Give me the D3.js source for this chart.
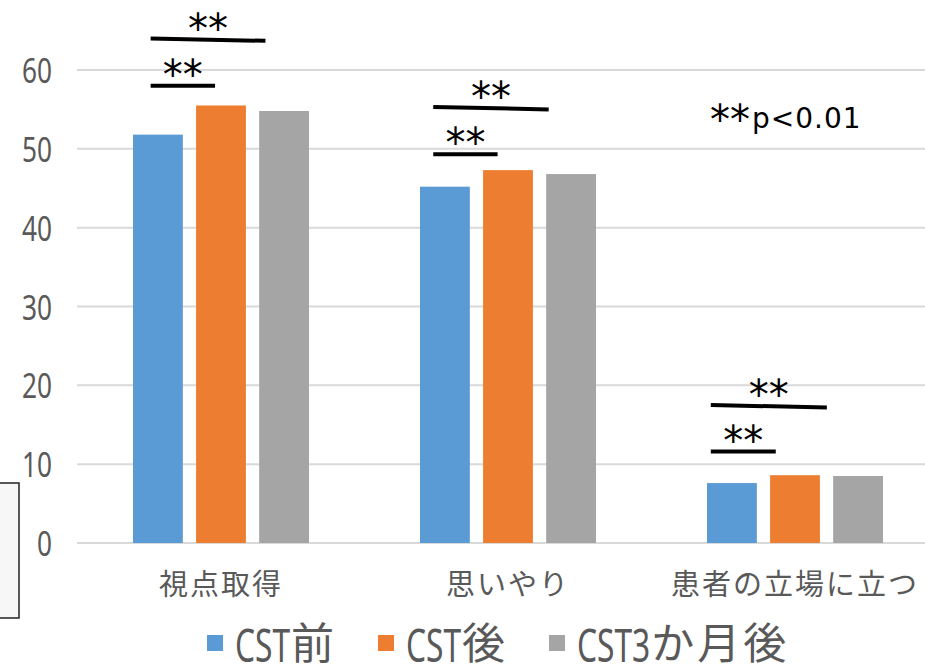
<!DOCTYPE html>
<html><head><meta charset="utf-8">
<script src="https://cdn.jsdelivr.net/npm/d3@7"></script>
<style>html,body{margin:0;padding:0;background:#fff;}svg{display:block;}</style>
</head><body>
<svg id="chart" width="925" height="665"></svg>
<script>
// ---- data ----
const categories = ["視点取得", "思いやり", "患者の立場に立つ"];
const seriesNames = ["CST前", "CST後", "CST3か月後"];
const seriesColors = ["#5b9bd5", "#ed7d31", "#a5a5a5"];
const valuesBefore = [51.8, 45.2, 7.6];
const valuesAfter = [55.5, 47.3, 8.6];
const values3Months = [54.8, 46.8, 8.5];
const yTicks = [0, 10, 20, 30, 40, 50, 60];
// significance brackets (category index, start/end in bar-step units from first bar, y value at start/end)
const sigCategory = [0, 0, 1, 1, 2, 2];
const sigStart = [0.28, 0.28, 0.21, 0.21, 0.06, 0.06];
const sigEnd = [1.30, 2.10, 1.23, 2.04, 1.09, 1.90];
const sigYStart = [58.0, 64.0, 49.3, 55.3, 11.6, 17.5];
const sigYEnd = [58.0, 63.7, 49.3, 55.0, 11.6, 17.2];
const sigLabel = ["**", "**", "**", "**", "**", "**"];
const noteText = ["**", "p<0.01"];

const series = [valuesBefore, valuesAfter, values3Months];

const svg = d3.select("#chart");
svg.append("rect").attr("width", 925).attr("height", 665).attr("fill", "#fff");

const latin = "'Noto Sans', 'DejaVu Sans', sans-serif";
const cjk = "'Noto Sans CJK JP', sans-serif";

const y = d3.scaleLinear().domain([0, 60]).range([543, 70]);
const x0 = d3.scaleBand().domain(categories).range([77.5, 938.5]).paddingInner(0).paddingOuter(0);
const x1 = d3.scaleBand().domain(d3.range(3)).range([55.5, 231.5]).paddingInner(0.21).paddingOuter(0);
const step = x1.step();

// gridlines
svg.append("g").selectAll("line").data(yTicks).join("line")
  .attr("x1", 77).attr("x2", 925)
  .attr("y1", d => y(d)).attr("y2", d => y(d))
  .attr("stroke", "#d9d9d9").attr("stroke-width", 2);

// y axis labels (condensed look)
const yAxis = d3.axisLeft(y).tickValues(yTicks).tickSize(0).tickPadding(0);
const ga = svg.append("g").attr("transform", "translate(52,0)").call(yAxis);
ga.select(".domain").remove();
ga.selectAll("text").attr("font-family", latin).attr("font-size", 35)
  .attr("fill", "#595959").attr("dy", "0.36em")
  .attr("transform", "scale(0.75,1)");

// bars
const groups = svg.append("g").selectAll("g").data(categories).join("g")
  .attr("transform", d => `translate(${x0(d)},0)`);
groups.selectAll("rect").data((c, ci) => series.map((s, si) => ({si, v: s[ci]})))
  .join("rect")
  .attr("x", d => x1(d.si)).attr("width", x1.bandwidth())
  .attr("y", d => y(d.v)).attr("height", d => y(0) - y(d.v))
  .attr("fill", d => seriesColors[d.si]);

// category labels
svg.append("g").selectAll("text").data(categories).join("text")
  .attr("x", d => x0(d) + x0.bandwidth() / 2).attr("y", 582)
  .attr("text-anchor", "middle").attr("dominant-baseline", "central")
  .attr("font-family", cjk).attr("font-size", 29).attr("letter-spacing", 2)
  .attr("fill", "#595959").text(d => d);

// significance brackets
const sig = sigCategory.map((c, i) => {
  const gx = x0(categories[c]) + x1(0);
  return {x1: gx + sigStart[i] * step, x2: gx + sigEnd[i] * step,
          y1: y(sigYStart[i]), y2: y(sigYEnd[i]), label: sigLabel[i]};
});
const sg = svg.append("g");
sg.selectAll("line").data(sig).join("line")
  .attr("x1", d => d.x1).attr("x2", d => d.x2)
  .attr("y1", d => d.y1).attr("y2", d => d.y2)
  .attr("stroke", "#000").attr("stroke-width", 4);
sg.selectAll("text").data(sig).join("text")
  .attr("x", d => (d.x1 + d.x2) / 2).attr("y", d => (d.y1 + d.y2) / 2 + 3)
  .attr("text-anchor", "middle")
  .attr("font-family", "'DejaVu Sans', sans-serif").attr("font-size", 40)
  .attr("letter-spacing", 0).attr("fill", "#000").text(d => d.label);

// note
const note = svg.append("text").attr("x", 710).attr("y", 128)
  .attr("font-family", "'DejaVu Sans', sans-serif").attr("fill", "#000");
note.append("tspan").attr("font-size", 40).attr("dy", 6).text(noteText[0]);
note.append("tspan").attr("font-size", 28).attr("dy", -6).attr("dx", 2).attr("letter-spacing", 1).text(noteText[1]);

// legend
const legendX = [207, 378, 549];
const lg = svg.append("g").selectAll("g").data(seriesNames).join("g")
  .attr("transform", (d, i) => `translate(${legendX[i]},0)`);
lg.append("rect").attr("x", 0).attr("y", 635).attr("width", 16).attr("height", 16)
  .attr("fill", (d, i) => seriesColors[i]);
lg.each(function(name) {
  const g = d3.select(this);
  const m = name.match(/^[A-Za-z0-9]+/);
  const latinPart = m ? m[0] : "";
  const rest = name.slice(latinPart.length);
  const sx = 0.69;
  const lt = g.append("text").attr("x", 0).attr("y", 662)
    .attr("transform", `translate(28,0) scale(${sx},1)`)
    .attr("font-family", latin).attr("font-size", 46).attr("fill", "#595959")
    .text(latinPart);
  const w = lt.node().getComputedTextLength() * sx;
  g.append("text").attr("x", 28 + w + 1).attr("y", 659)
    .attr("font-family", cjk).attr("font-size", 43).attr("letter-spacing", 3).attr("fill", "#595959")
    .text(rest);
});

// partial box at left edge
svg.append("rect").attr("x", -2).attr("y", 483).attr("width", 21).attr("height", 135)
  .attr("fill", "#f7f7f7").attr("stroke", "#222").attr("stroke-width", 1.5);
</script>
</body></html>
